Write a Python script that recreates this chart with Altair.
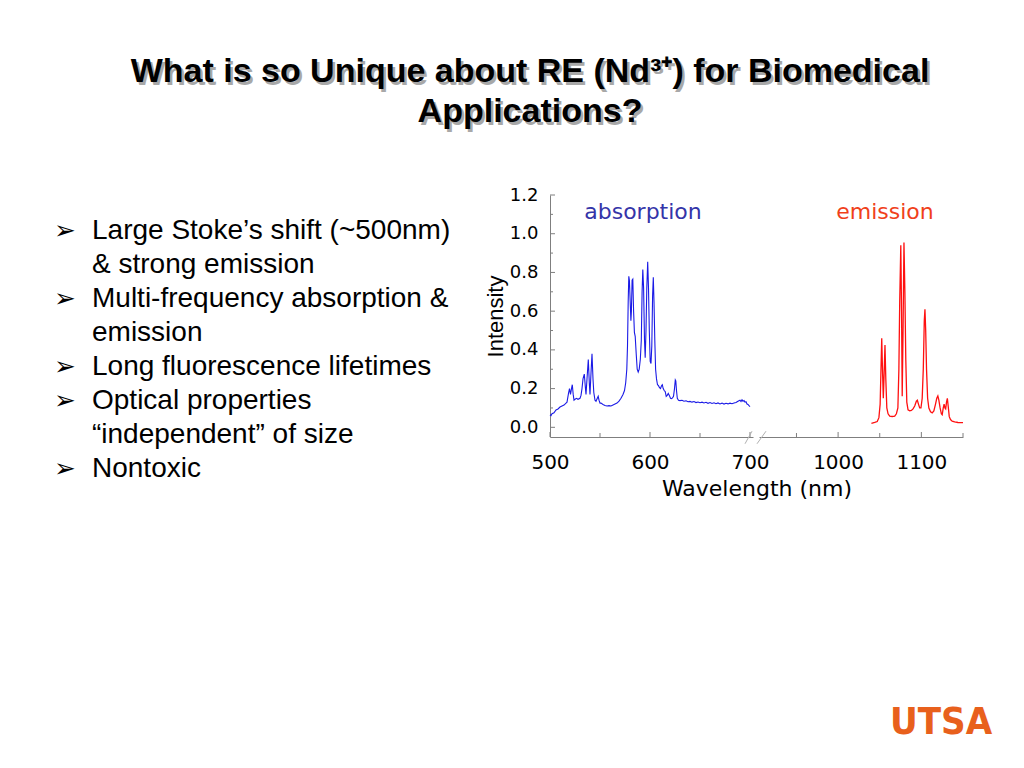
import altair as alt
import pandas as pd

# ---------------- data ----------------
abs_wl = [500, 501, 502, 504, 506, 508, 510, 512, 514, 516, 517, 518.5, 519.5, 520.5, 521.5, 522.3, 523.2,
          524, 525, 526.5, 528, 530, 531, 532, 533, 534.3, 535.3, 536, 537, 538.3, 539.3, 540, 541, 542,
          543, 543.8, 545, 546, 547.3, 548.2, 549, 550, 551, 553, 555, 557, 559, 561, 563, 565, 567, 569,
          571, 573, 574.5, 575.7, 576.8, 577.5, 578.2, 578.8, 579.4, 580.2, 580.9, 581.4, 582.1, 582.8,
          583.6, 584.4, 585.2, 586.2, 587.2, 588.2, 589.2, 590.3, 591.3, 592.1, 592.8, 593.6, 594.5, 595.2,
          596.0, 596.8, 597.7, 598.5, 599.3, 600.2, 601.0, 601.8, 602.6, 603.3, 604.0, 604.8, 605.6, 606.5,
          607.5, 608.5, 609.5, 610.5, 611.5, 612.3, 613.2, 614.2, 615.2, 616.2, 617.2, 618.3, 619.3, 620.5,
          621.5, 622.5, 623.5, 624.5, 625.3, 625.8, 626.5, 627.3, 628.5, 630, 632, 634, 636, 638, 640, 642,
          644, 646, 648, 650, 652, 654, 656, 658, 660, 662, 664, 666, 668, 670, 672, 674, 676, 678, 680,
          682, 684, 686, 688, 690, 691, 692, 693, 694, 695, 696, 697, 698, 699, 700]
abs_int = [0.065, 0.06, 0.07, 0.075, 0.09, 0.095, 0.105, 0.11, 0.115, 0.125, 0.13, 0.175, 0.2, 0.17, 0.2, 0.22,
           0.17, 0.14, 0.145, 0.15, 0.145, 0.15, 0.165, 0.2, 0.25, 0.275, 0.21, 0.17, 0.25, 0.35, 0.23, 0.17,
           0.28, 0.38, 0.25, 0.18, 0.14, 0.135, 0.15, 0.16, 0.14, 0.125, 0.125, 0.118, 0.113, 0.11, 0.112,
           0.11, 0.115, 0.12, 0.125, 0.135, 0.15, 0.17, 0.19, 0.23, 0.3, 0.42, 0.65, 0.78, 0.76, 0.65, 0.55,
           0.6, 0.76, 0.765, 0.6, 0.49, 0.47, 0.38, 0.3, 0.285, 0.3, 0.35, 0.45, 0.7, 0.815, 0.72, 0.45, 0.36,
           0.5, 0.72, 0.855, 0.72, 0.5, 0.34, 0.33, 0.42, 0.68, 0.775, 0.65, 0.45, 0.3, 0.25, 0.22, 0.215,
           0.205, 0.2, 0.215, 0.22, 0.2, 0.19, 0.185, 0.16, 0.165, 0.175, 0.165, 0.15, 0.148, 0.152, 0.16,
           0.2, 0.245, 0.24, 0.19, 0.15, 0.14, 0.138, 0.14, 0.135, 0.137, 0.132, 0.134, 0.13, 0.133, 0.128,
           0.131, 0.127, 0.13, 0.126, 0.129, 0.124, 0.128, 0.123, 0.127, 0.122, 0.126, 0.121, 0.125, 0.12,
           0.124, 0.121, 0.125, 0.122, 0.126, 0.128, 0.135, 0.14, 0.133, 0.142, 0.135, 0.138, 0.13, 0.132,
           0.12, 0.118, 0.112, 0.107]

em_wl = [1040, 1044, 1047, 1049, 1050.5, 1051.5, 1052.4, 1053.3, 1054.3, 1055.3, 1056.3, 1057.3, 1058.5, 1060,
         1062, 1065, 1068, 1070, 1071.8, 1073, 1074, 1075.3, 1076.2, 1077, 1078, 1079.1, 1080.2, 1081.3,
         1082.5, 1084, 1086, 1088, 1090, 1092, 1094, 1095.2, 1096.5, 1098, 1099.5, 1101, 1102.3, 1103.5,
         1104.3, 1105.2, 1106.2, 1107.5, 1109, 1111, 1113, 1115, 1117, 1118.5, 1119.8, 1121, 1122.5, 1124,
         1125, 1126.3, 1127.3, 1128.3, 1129.2, 1130.2, 1131.2, 1132.2, 1133.5, 1135, 1137, 1140, 1144, 1148,
         1150]
em_int = [0.02, 0.025, 0.03, 0.05, 0.12, 0.3, 0.46, 0.3, 0.15, 0.28, 0.425, 0.25, 0.1, 0.07, 0.058, 0.056,
          0.058, 0.07, 0.1, 0.3, 0.65, 0.94, 0.6, 0.16, 0.5, 0.955, 0.7, 0.35, 0.13, 0.09, 0.085, 0.087,
          0.095, 0.11, 0.135, 0.14, 0.12, 0.1, 0.1, 0.15, 0.3, 0.55, 0.61, 0.5, 0.3, 0.15, 0.1, 0.08, 0.075,
          0.085, 0.12, 0.15, 0.162, 0.14, 0.1, 0.07, 0.065, 0.1, 0.12, 0.1, 0.095, 0.13, 0.15, 0.11, 0.055,
          0.04, 0.032, 0.028, 0.025, 0.024, 0.024]

y_major = [0.0, 0.2, 0.4, 0.6, 0.8, 1.0, 1.2]
y_minor = [0.1, 0.3, 0.5, 0.7, 0.9, 1.1]
x1_major = [500, 600, 700]
x1_minor = [550, 650]
x2_major = [1000, 1100]
x2_minor = [950, 1050, 1150]
break_x1 = [695, 707]
break_x2 = [702, 716]
break_y1 = [-0.085, -0.085]
break_y2 = [-0.02, -0.02]

title_lines = ["What is so Unique about RE (Nd\u00b3\u207a) for Biomedical", "Applications?"]
bullet_lines = ["Large Stoke\u2019s shift (~500nm)", "& strong emission",
                "Multi-frequency absorption &", "emission",
                "Long fluorescence lifetimes", "Optical properties",
                "\u201cindependent\u201d of size", "Nontoxic"]
arrow_rows = [0, 2, 4, 5, 7]   # which bullet lines start a new item

# ---------------- chart ----------------
GRAY = "#7f7f7f"
YDOM = [-0.05, 1.2]
H = 242
LINE_H = 34


def x1scale():
    return alt.Scale(domain=[500, 703], range=[0, 203])


def x2scale():
    return alt.Scale(domain=[905, 1150], range=[209, 413])


def yscale():
    return alt.Scale(domain=YDOM)


def yaxis():
    return alt.Axis(values=y_major, format=".1f", title="Intensity", titleFont="Liberation Sans",
                    titleFontSize=22, titleFontWeight="normal", titleColor="black", titlePadding=2,
                    labelFont="DejaVu Sans", labelFontSize=18, labelColor="black", labelPadding=12,
                    tickSize=0, domainColor=GRAY, grid=False, orient="left")


def xaxis(vals):
    return alt.Axis(values=vals, format="d", title=None, labelFont="DejaVu Sans", labelFontSize=20,
                    labelColor="black", labelPadding=15, labelFlush=False, tickSize=0,
                    domainColor=GRAY, grid=False, orient="bottom")


abs_df = pd.DataFrame({"wl": abs_wl, "v": abs_int})
em_df = pd.DataFrame({"wl": em_wl, "v": em_int})

abs_line = alt.Chart(abs_df).mark_line(color="#1a1ae6", strokeWidth=1.1).encode(
    x=alt.X("wl:Q", scale=x1scale(), axis=xaxis(x1_major)),
    y=alt.Y("v:Q", scale=yscale(), axis=yaxis()),
)
em_line = alt.Chart(em_df).mark_line(color="#ff1010", strokeWidth=1.3).encode(
    x=alt.X("wl:Q", scale=x2scale(), axis=xaxis(x2_major)),
    y=alt.Y("v:Q", scale=yscale(), axis=yaxis()),
)


def xticks(vals, scale, length):
    return alt.Chart(pd.DataFrame({"wl": vals})).mark_rule(color=GRAY, strokeWidth=1).encode(
        x=alt.X("wl:Q", scale=scale, axis=None),
        y=alt.value(H), y2=alt.value(H - length))


def yticks(vals, length):
    return alt.Chart(pd.DataFrame({"v": vals})).mark_rule(color=GRAY, strokeWidth=1).encode(
        y=alt.Y("v:Q", scale=yscale(), axis=yaxis()),
        x=alt.value(0), x2=alt.value(length))


breaks = alt.Chart(pd.DataFrame({"x1": break_x1, "x2": break_x2, "v": break_y1, "y2": break_y2})).mark_rule(
    color="#b0b0b0", strokeWidth=1).encode(
    x=alt.X("x1:Q", scale=x1scale(), axis=None), x2="x2:Q",
    y=alt.Y("v:Q", scale=yscale(), axis=yaxis()), y2="y2:Q")

one = pd.DataFrame({"a": [0]})


def txt(lines, x, y, **kw):
    return alt.Chart(one).mark_text(text=lines, **kw).encode(x=alt.value(x), y=alt.value(y))


title_shadow = txt(title_lines, -17.5, -110.5, font="Liberation Sans", fontSize=34, fontWeight="bold",
                   color="#a8a8a8", align="center", baseline="alphabetic", lineHeight=40)
title = txt(title_lines, -20, -113, font="Liberation Sans", fontSize=34, fontWeight="bold",
            color="black", align="center", baseline="alphabetic", lineHeight=40)
arrows = [txt("\u27a2", -496, 44 + LINE_H * r, font="DejaVu Sans", fontSize=26, color="black",
              align="left", baseline="alphabetic") for r in arrow_rows]
bullets = txt(bullet_lines, -458, 44, font="Liberation Sans", fontSize=28, color="black",
              align="left", baseline="alphabetic", lineHeight=LINE_H)
lab_abs = txt("absorption", 93, 24, font="DejaVu Sans", fontSize=22, color="#3434a8",
              align="center", baseline="alphabetic")
lab_em = txt("emission", 335, 24, font="DejaVu Sans", fontSize=22, color="#f0401a",
             align="center", baseline="alphabetic")
xtitle = txt("Wavelength (nm)", 207, 301, font="DejaVu Sans", fontSize=22, color="black",
             align="center", baseline="alphabetic")
logo = txt("UTSA", 391, 539, font="DejaVu Sans Condensed, Liberation Sans",
           fontSize=38, fontWeight="bold", color="#e8601c", align="center", baseline="alphabetic")

chart = alt.layer(
    abs_line, em_line,
    xticks(x1_major, x1scale(), 5), xticks(x1_minor, x1scale(), 4),
    xticks(x2_major, x2scale(), 5), xticks(x2_minor, x2scale(), 4),
    yticks(y_major, 5), yticks(y_minor, 3), breaks,
    title_shadow, title, *arrows, bullets, lab_abs, lab_em, xtitle, logo,
).resolve_scale(x="independent").properties(
    width=413, height=H, autosize="none",
    padding={"left": 542, "top": 187, "right": 53, "bottom": 323},
).configure(background="white").configure_view(strokeWidth=0)

chart.save("out.html", embed_options={"renderer": "svg", "actions": False})
